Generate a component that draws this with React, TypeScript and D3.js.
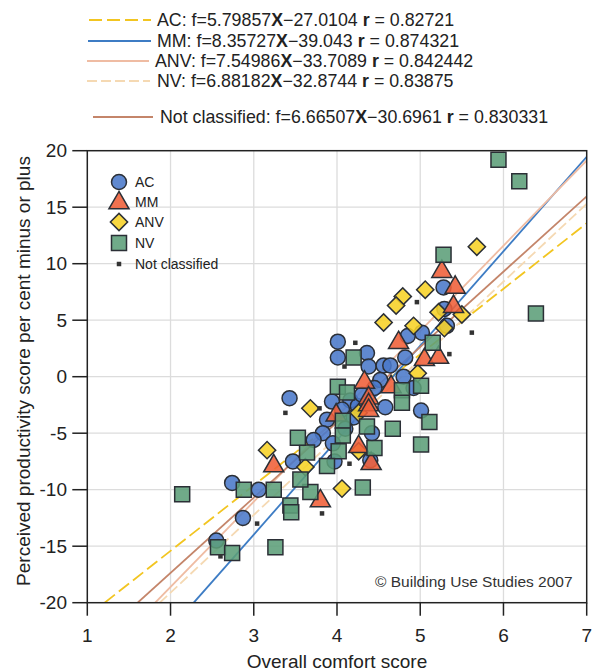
import React from "react";
import * as d3 from "d3";

// ---------- data ----------
const acX = [5.28, 5.29, 5.32, 5.02, 4.85, 4.01, 4.01, 4.36, 4.82, 4.38, 4.56, 4.64, 4.52, 4.80, 4.92, 3.43, 3.94, 4.16, 4.06, 4.25, 4.58, 5.01, 3.88, 4.20, 3.83, 4.42, 3.72, 3.95, 4.10, 3.47, 3.97, 4.40, 2.74, 3.06, 2.87, 2.55, 4.30, 4.45];
const acY = [7.9, 6.0, 4.5, 3.9, 3.6, 3.1, 1.7, 2.1, 1.7, 0.9, 1.0, 1.0, -0.3, 0.0, -1.0, -1.9, -2.2, -2.1, -2.9, -2.6, -2.7, -3.0, -3.8, -3.6, -5.0, -5.0, -5.6, -5.9, -4.6, -7.5, -7.5, -7.4, -9.4, -10.0, -12.5, -14.5, -1.6, -1.0];

const mmX = [5.26, 5.42, 5.40, 4.74, 5.05, 5.22, 4.33, 4.65, 4.38, 4.38, 4.38, 3.99, 4.26, 4.41, 3.24, 3.80];
const mmY = [9.3, 7.9, 6.2, 3.0, 1.5, 1.7, -0.5, -0.9, -1.9, -2.5, -3.0, -3.4, -6.2, -7.7, -7.9, -11.0];

const anvX = [5.68, 5.06, 4.79, 4.71, 4.56, 4.92, 5.22, 5.50, 5.29, 4.97, 3.68, 4.26, 3.16, 3.62, 4.06, 4.26];
const anvY = [11.5, 7.7, 7.1, 6.3, 4.8, 4.5, 5.7, 5.5, 4.3, 0.3, -2.8, -3.2, -6.5, -8.0, -9.9, -6.6];

const nvX = [5.94, 6.19, 6.39, 5.28, 5.15, 4.20, 4.01, 4.12, 4.78, 5.01, 4.78, 4.07, 4.36, 4.67, 5.11, 4.07, 4.45, 5.01, 4.02, 3.64, 3.53, 3.88, 4.31, 3.68, 3.56, 3.24, 2.88, 2.14, 3.44, 3.45, 2.57, 2.74, 3.26];
const nvY = [19.2, 17.3, 5.6, 10.8, 3.0, 1.7, -0.9, -1.4, -1.2, -0.8, -2.3, -3.9, -4.4, -4.6, -4.0, -5.2, -6.3, -6.0, -6.6, -6.7, -5.4, -7.9, -9.8, -10.2, -9.1, -10.0, -10.0, -10.4, -11.4, -12.0, -15.1, -15.6, -15.1];

const ncX = [4.96, 4.22, 5.62, 5.35, 4.09, 3.79, 3.38, 4.15, 3.82, 3.04, 2.60];
const ncY = [6.6, 3.0, 3.9, 2.0, 0.9, -2.8, -3.2, -7.7, -12.1, -13.0, -15.9];

const fitNames = ["AC", "MM", "ANV", "NV", "Not classified"];
const fitSlopes = [5.79857, 8.35727, 7.54986, 6.88182, 6.66507];
const fitIntercepts = [-27.0104, -39.043, -33.7089, -32.8744, -30.6961];
const fitR = ["0.82721", "0.874321", "0.842442", "0.83875", "0.830331"];

const xTicks = [1, 2, 3, 4, 5, 6, 7];
const yTicks = [-20, -15, -10, -5, 0, 5, 10, 15, 20];

// ---------- styles ----------
const FONT = "'Liberation Sans', Arial, Helvetica, sans-serif";
const fitColors = ["#f2c521", "#3d7cc4", "#efbca3", "#f5d9b3", "#c4856a"];
const fitDash = ["13,5", null, null, "10,4", null];
const eqRowY = [20, 41, 61, 81, 117];
const eqLineX = [[89, 151], [88, 151], [87, 149], [87, 150], [93, 153]];
const eqTextX = [157, 157, 155, 157, 160];

const colAC = "#4a79c9";
const colMM = "#ef5f38";
const colANV = "#f7d126";
const colNV = "#5c9e79";
const stroke = "#2b2f36";

export default function App() {
  const W = 598, H = 671;
  const left = 87.3, right = 586.7, top = 150.7, bottom = 602.7;
  const x = d3.scaleLinear().domain([1, 7]).range([left, right]);
  const y = d3.scaleLinear().domain([-20, 20]).range([bottom, top]);

  const circle = d3.symbol().type(d3.symbolCircle).size(Math.PI * 7.5 * 7.5)() as string;
  const square = d3.symbol().type(d3.symbolSquare).size(15 * 15)() as string;
  const diamond = d3.symbol().type(d3.symbolSquare).size(12.2 * 12.2)() as string;
  const tri = d3.symbol().type(d3.symbolTriangle).size(175)() as string;
  const small = d3.symbol().type(d3.symbolSquare).size(4.5 * 4.5)() as string;

  const fitLines = fitSlopes.map((m, i) => {
    const b = fitIntercepts[i];
    const x0 = Math.max(1, (-20 - b) / m);
    const x1 = Math.min(7, (20 - b) / m);
    return { x0, y0: m * x0 + b, x1, y1: m * x1 + b };
  });

  const markerProps = { stroke, strokeWidth: 1.5, fillOpacity: 0.88 };

  return (
    <svg width={W} height={H} style={{ position: "absolute", left: 0, top: 0, background: "#fff" }} fontFamily={FONT}>
      <defs>
        <clipPath id="plotClip">
          <rect x={left} y={top} width={right - left} height={bottom - top} />
        </clipPath>
      </defs>
      <rect x={0} y={0} width={W} height={H} fill="#fff" />

      {/* equation legend */}
      {fitNames.map((n, i) => (
        <g key={n}>
          <line x1={eqLineX[i][0]} x2={eqLineX[i][1]} y1={eqRowY[i]} y2={eqRowY[i]}
            stroke={fitColors[i]} strokeWidth={1.8} strokeDasharray={fitDash[i] || undefined} />
          <text x={eqTextX[i]} y={eqRowY[i] + 6} fontSize={17.8} fill="#222">
            {`${n}: f=${fitSlopes[i]}`}
            <tspan fontWeight="bold">X</tspan>
            {`\u2212${Math.abs(fitIntercepts[i])} `}
            <tspan fontWeight="bold">r</tspan>
            {` = ${fitR[i]}`}
          </text>
        </g>
      ))}

      {/* grid */}
      {xTicks.slice(1, -1).map((t) => (
        <line key={"gx" + t} x1={x(t)} x2={x(t)} y1={top} y2={bottom} stroke="#dcdcdc" strokeWidth={1.3} />
      ))}
      {yTicks.slice(1, -1).map((t) => (
        <line key={"gy" + t} x1={left} x2={right} y1={y(t)} y2={y(t)} stroke="#dcdcdc" strokeWidth={1.3} />
      ))}

      {/* regression lines */}
      <g clipPath="url(#plotClip)">
        {fitLines.map((l, i) => (
          <line key={"f" + i} x1={x(l.x0)} y1={y(l.y0)} x2={x(l.x1)} y2={y(l.y1)}
            stroke={fitColors[i]} strokeWidth={1.8} strokeDasharray={fitDash[i] || undefined} />
        ))}
      </g>

      {/* points */}
      <g>
        {acX.map((v, i) => (
          <path key={"ac" + i} d={circle} transform={`translate(${x(v)},${y(acY[i])})`} fill={colAC} {...markerProps} />
        ))}
        {anvX.map((v, i) => (
          <path key={"anv" + i} d={diamond} transform={`translate(${x(v)},${y(anvY[i])}) rotate(45)`} fill={colANV} {...markerProps} />
        ))}
        {mmX.map((v, i) => (
          <path key={"mm" + i} d={tri} transform={`translate(${x(v)},${y(mmY[i])})`} fill={colMM} {...markerProps} />
        ))}
        {nvX.map((v, i) => (
          <path key={"nv" + i} d={square} transform={`translate(${x(v)},${y(nvY[i])})`} fill={colNV} {...markerProps} />
        ))}
        {ncX.map((v, i) => (
          <path key={"nc" + i} d={small} transform={`translate(${x(v)},${y(ncY[i])})`} fill="#333" />
        ))}
      </g>

      {/* inner legend */}
      <g fontSize={14} fill="#222">
        <path d={circle} transform="translate(119,182)" fill={colAC} {...markerProps} />
        <text x={135} y={187}>AC</text>
        <path d={tri} transform="translate(119,203)" fill={colMM} {...markerProps} />
        <text x={135} y={207}>MM</text>
        <path d={diamond} transform="translate(119,222) rotate(45)" fill={colANV} {...markerProps} />
        <text x={135} y={227}>ANV</text>
        <path d={square} transform="translate(119,243)" fill={colNV} {...markerProps} />
        <text x={135} y={248}>NV</text>
        <path d={small} transform="translate(119,264)" fill="#333" />
        <text x={135} y={269}>Not classified</text>
      </g>

      {/* frame */}
      <rect x={left} y={top} width={right - left} height={bottom - top} fill="none" stroke="#222" strokeWidth={1.5} />

      {/* axes ticks */}
      {yTicks.map((t) => (
        <g key={"yt" + t}>
          <line x1={left - 15} x2={left} y1={y(t)} y2={y(t)} stroke="#222" strokeWidth={1.5} />
          <text x={67} y={y(t) + 6.5} textAnchor="end" fontSize={19} fill="#222">{t}</text>
        </g>
      ))}
      {xTicks.map((t) => (
        <g key={"xt" + t}>
          <line x1={x(t)} x2={x(t)} y1={bottom} y2={bottom + 13} stroke="#222" strokeWidth={1.5} />
          <text x={x(t)} y={642} textAnchor="middle" fontSize={19} fill="#222">{t}</text>
        </g>
      ))}

      <text x={(left + right) / 2} y={668} textAnchor="middle" fontSize={19} fill="#222">Overall comfort score</text>
      <text transform="translate(30,371) rotate(-90)" textAnchor="middle" fontSize={19} fill="#222">
        Perceived productivity score per cent minus or plus
      </text>

      <text x={375} y={587} fontSize={15.5} fill="#333">© Building Use Studies 2007</text>
    </svg>
  );
}
